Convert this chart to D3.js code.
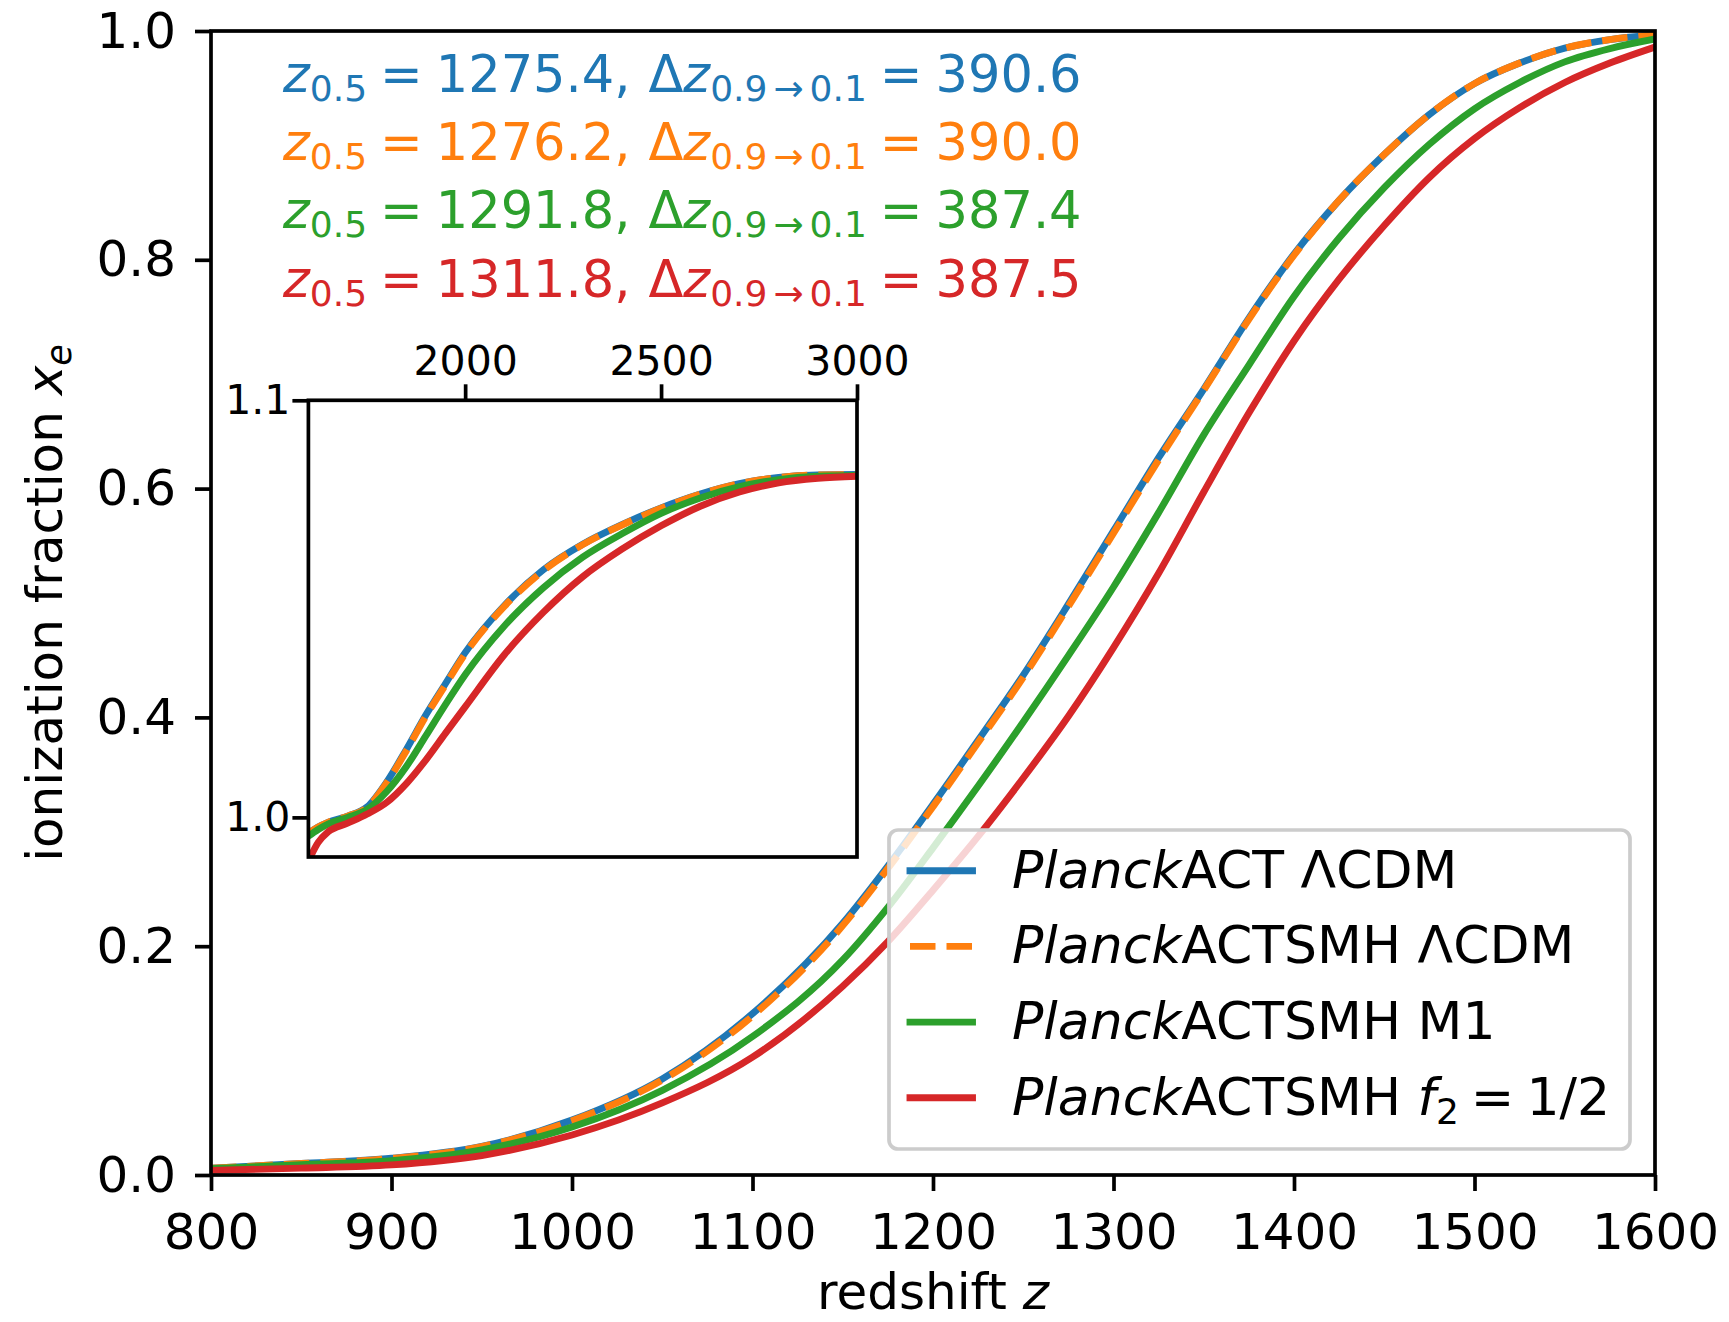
<!DOCTYPE html>
<html>
<head>
<meta charset="utf-8">
<script src="https://cdn.jsdelivr.net/npm/d3@7"></script>
<style>
body { margin: 0; background: #fff; }
svg { display: block; font-family: "DejaVu Sans", sans-serif; }
text { white-space: pre; }
</style>
</head>
<body>
<script>
// main panel: ionization fraction vs redshift
const redshift = [800, 850, 900, 950, 1000, 1050, 1100, 1150, 1175, 1200, 1225, 1250, 1275, 1300,
    1325, 1350, 1375, 1400, 1425, 1450, 1475, 1500, 1525, 1550, 1575, 1600]
const xeACT = [0.006, 0.010, 0.0146, 0.025, 0.048, 0.084, 0.141, 0.220, 0.270, 0.324, 0.380, 0.437, 0.499, 0.563,
    0.627, 0.687, 0.749, 0.805, 0.852, 0.892, 0.927, 0.954, 0.972, 0.985, 0.9925, 0.9965]
const xeSMH = [0.006, 0.010, 0.0145, 0.0248, 0.0475, 0.083, 0.139, 0.218, 0.268, 0.322, 0.378, 0.435, 0.497, 0.561,
    0.625, 0.686, 0.748, 0.804, 0.852, 0.892, 0.927, 0.954, 0.972, 0.985, 0.9925, 0.9965]
const xeM1 = [0.0055, 0.009, 0.0125, 0.022, 0.042, 0.074, 0.121, 0.188, 0.234, 0.286, 0.340, 0.396, 0.454, 0.514,
    0.579, 0.647, 0.708, 0.768, 0.819, 0.863, 0.901, 0.932, 0.955, 0.973, 0.9846, 0.993]
const xeF2 = [0.004, 0.006, 0.0088, 0.017, 0.035, 0.063, 0.103, 0.165, 0.204, 0.249, 0.296, 0.347, 0.401, 0.461,
    0.526, 0.597, 0.666, 0.729, 0.783, 0.830, 0.872, 0.906, 0.933, 0.955, 0.972, 0.986]

// inset: helium recombination
const insetZ = [1600, 1625, 1650, 1700, 1750, 1800, 1850, 1900, 1950, 2000, 2100, 2200, 2300, 2400, 2500,
    2600, 2700, 2800, 2900, 3000]
const insetACT = [0.9962, 0.9977, 0.9988, 1.0003, 1.0025, 1.0085, 1.0163, 1.0246, 1.0321, 1.0395, 1.0508, 1.0594,
    1.0655, 1.0702, 1.0742, 1.0775, 1.0800, 1.0815, 1.0821, 1.0822]
const insetSMH = [0.9962, 0.9977, 0.9988, 1.0003, 1.0024, 1.0083, 1.0160, 1.0243, 1.0318, 1.0392, 1.0506, 1.0592,
    1.0654, 1.0701, 1.0741, 1.0775, 1.0800, 1.0815, 1.0821, 1.0822]
const insetM1 = [0.9955, 0.9971, 0.9984, 1.0000, 1.0019, 1.0062, 1.0122, 1.0196, 1.0271, 1.0342, 1.0459, 1.0551,
    1.0624, 1.0680, 1.0729, 1.0766, 1.0793, 1.0810, 1.0818, 1.0820]
const insetF2 = [0.9895, 0.9940, 0.9965, 0.9986, 1.0008, 1.0036, 1.0081, 1.0138, 1.0202, 1.0265, 1.0390, 1.0492,
    1.0577, 1.0643, 1.0699, 1.0746, 1.0780, 1.0802, 1.0813, 1.0818]

const mainTicksX = [800, 900, 1000, 1100, 1200, 1300, 1400, 1500, 1600]
const mainTicksY = [0, 0.2, 0.4, 0.6, 0.8, 1.0]
const insetTicksX = [2000, 2500, 3000]
const insetTicksY = [1.0, 1.1]

const z05 = ['1275.4', '1276.2', '1291.8', '1311.8']
const dz = ['390.6', '390.0', '387.4', '387.5']
const colors = ['#1f77b4', '#ff7f0e', '#2ca02c', '#d62728']
const dashes = [null, '25.5,11', null, null]

const mainSeries = [xeACT, xeSMH, xeM1, xeF2]
const insetSeries = [insetACT, insetSMH, insetM1, insetF2]

const legendLabels = [
    [{ t: 'Planck', i: 1 }, { t: 'ACT ΛCDM' }],
    [{ t: 'Planck', i: 1 }, { t: 'ACTSMH ΛCDM' }],
    [{ t: 'Planck', i: 1 }, { t: 'ACTSMH M1' }],
    [{ t: 'Planck', i: 1 }, { t: 'ACTSMH ' }, { t: 'f', i: 1 }, { t: '2', s: 36, dy: 9 },
        { t: '=', dy: -9, dx: 12 }, { t: '1/2', dx: 12 }]
]

const width = 1729
const height = 1322
const lw = 6.9
const spineW = 3.7

const svg = d3.select('body').append('svg')
    .attr('width', width).attr('height', height)
    .attr('xmlns', 'http://www.w3.org/2000/svg')

function rich(textSel, parts) {
    parts.forEach(p => {
        const ts = textSel.append('tspan').text(p.t)
        if (p.i) ts.attr('font-style', 'italic')
        if (p.s) ts.attr('font-size', p.s)
        if (p.dx) ts.attr('dx', p.dx)
        if (p.dy) ts.attr('dy', p.dy)
    })
}

function styleAxis(g, fontSize) {
    g.attr('font-family', null).attr('font-size', fontSize)
    g.select('.domain').remove()
    g.selectAll('.tick line').attr('stroke-width', spineW).attr('stroke', '#000')
    g.selectAll('.tick text').attr('fill', '#000')
}

// ---- main axes
const x = d3.scaleLinear().domain([800, 1600]).range([211, 1655])
const y = d3.scaleLinear().domain([0, 1]).range([1175, 31])

svg.append('clipPath').attr('id', 'clipMain').append('rect')
    .attr('x', x(800)).attr('y', y(1)).attr('width', x(1600) - x(800)).attr('height', y(0) - y(1))

const gx = svg.append('g').attr('transform', `translate(0,${y(0)})`)
    .call(d3.axisBottom(x).tickValues(mainTicksX).tickSize(16).tickPadding(22).tickFormat(d3.format('d')))
styleAxis(gx, 50)

const gy = svg.append('g').attr('transform', `translate(${x(800)},0)`)
    .call(d3.axisLeft(y).tickValues(mainTicksY).tickSize(16).tickPadding(19).tickFormat(d3.format('.1f')))
styleAxis(gy, 50)

const line = d3.line()
    .x((d, i) => x(redshift[i]))
    .y(d => y(d))
    .curve(d3.curveMonotoneX)

const curves = svg.append('g').attr('clip-path', 'url(#clipMain)')
mainSeries.forEach((s, k) => {
    curves.append('path').datum(s)
        .attr('d', line)
        .attr('fill', 'none')
        .attr('stroke', colors[k])
        .attr('stroke-width', lw)
        .attr('stroke-dasharray', dashes[k])
})

svg.append('rect')
    .attr('x', x(800)).attr('y', y(1)).attr('width', x(1600) - x(800)).attr('height', y(0) - y(1))
    .attr('fill', 'none').attr('stroke', '#000').attr('stroke-width', spineW)

// axis labels
const xl = svg.append('text').attr('x', (x(800) + x(1600)) / 2).attr('y', 1309)
    .attr('text-anchor', 'middle').attr('font-size', 50)
rich(xl, [{ t: 'redshift ' }, { t: 'z', i: 1 }])

const yl = svg.append('text')
    .attr('transform', `translate(62,${(y(0) + y(1)) / 2}) rotate(-90)`)
    .attr('text-anchor', 'middle').attr('font-size', 50)
rich(yl, [{ t: 'ionization fraction ' }, { t: 'x', i: 1 }, { t: 'e', i: 1, s: 35, dy: 9 }])

// z_0.5 and width annotations
const rowY = [92, 160, 228, 297]
z05.forEach((v, k) => {
    const t = svg.append('text').attr('x', 283).attr('y', rowY[k])
        .attr('font-size', 51).attr('fill', colors[k])
    rich(t, [
        { t: 'z', i: 1 },
        { t: '0.5', s: 36, dy: 9 },
        { t: '=', dy: -9, dx: 13 },
        { t: v + ',', dx: 13 },
        { t: 'Δ', dx: 18 },
        { t: 'z', i: 1 },
        { t: '0.9', s: 36, dy: 9 },
        { t: '→', s: 36, dx: 6 },
        { t: '0.1', s: 36, dx: 6 },
        { t: '=', dy: -9, dx: 13 },
        { t: dz[k], dx: 13 }
    ])
})

// ---- inset
const xi = d3.scaleLinear().domain([1600, 3000]).range([308.4, 857])
const yi = d3.scaleLinear().domain([0.9905, 1.1]).range([857, 400.3])

svg.append('rect')
    .attr('x', xi(1600)).attr('y', yi(1.1)).attr('width', xi(3000) - xi(1600)).attr('height', yi(0.9905) - yi(1.1))
    .attr('fill', '#fff')

svg.append('clipPath').attr('id', 'clipInset').append('rect')
    .attr('x', xi(1600)).attr('y', yi(1.1)).attr('width', xi(3000) - xi(1600)).attr('height', yi(0.9905) - yi(1.1))

const gxi = svg.append('g').attr('transform', `translate(0,${yi(1.1)})`)
    .call(d3.axisTop(xi).tickValues(insetTicksX).tickSize(16).tickPadding(9).tickFormat(d3.format('d')))
styleAxis(gxi, 41)

const gyi = svg.append('g').attr('transform', `translate(${xi(1600)},0)`)
    .call(d3.axisLeft(yi).tickValues(insetTicksY).tickSize(16).tickPadding(2).tickFormat(d3.format('.1f')))
styleAxis(gyi, 41)

const lineInset = d3.line()
    .x((d, i) => xi(insetZ[i]))
    .y(d => yi(d))
    .curve(d3.curveMonotoneX)

const insetCurves = svg.append('g').attr('clip-path', 'url(#clipInset)')
insetSeries.forEach((s, k) => {
    insetCurves.append('path').datum(s)
        .attr('d', lineInset)
        .attr('fill', 'none')
        .attr('stroke', colors[k])
        .attr('stroke-width', lw)
        .attr('stroke-dasharray', dashes[k])
})

svg.append('rect')
    .attr('x', xi(1600)).attr('y', yi(1.1)).attr('width', xi(3000) - xi(1600)).attr('height', yi(0.9905) - yi(1.1))
    .attr('fill', 'none').attr('stroke', '#000').attr('stroke-width', spineW)

// ---- legend
const legend = svg.append('g')
legend.append('rect')
    .attr('x', 889).attr('y', 830).attr('width', 741).attr('height', 319)
    .attr('rx', 9).attr('ry', 9)
    .attr('fill', '#fff').attr('fill-opacity', 0.8)
    .attr('stroke', '#cccccc').attr('stroke-width', spineW)

const legendRowY = [870.7, 946.4, 1022.1, 1097.8]
legendLabels.forEach((parts, k) => {
    legend.append('line')
        .attr('x1', 910).attr('x2', 972.5)
        .attr('y1', legendRowY[k]).attr('y2', legendRowY[k])
        .attr('stroke', colors[k]).attr('stroke-width', lw)
        .attr('stroke-linecap', dashes[k] ? 'butt' : 'square')
        .attr('stroke-dasharray', dashes[k])
    const t = legend.append('text').attr('x', 1012).attr('y', legendRowY[k] + 17).attr('font-size', 52)
    rich(t, parts)
})
</script>
</body>
</html>
